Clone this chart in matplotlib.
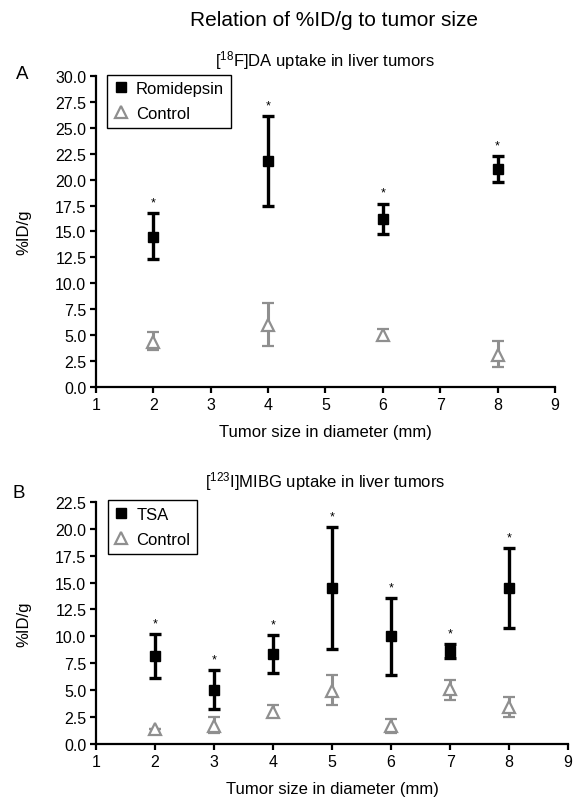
import matplotlib
matplotlib.use("Agg")
import matplotlib.pyplot as plt
from matplotlib.lines import Line2D
import numpy as np

plt.rcParams['font.family'] = ['Liberation Sans', 'DejaVu Sans']
plt.rcParams['mathtext.fontset'] = 'custom'
plt.rcParams['mathtext.rm'] = 'Liberation Sans'
plt.rcParams['mathtext.it'] = 'Liberation Sans:italic'
plt.rcParams['mathtext.bf'] = 'Liberation Sans:bold'

# panel A data
a_x = [2, 4, 6, 8]
a_romi = [14.5, 21.8, 16.2, 21.0]
a_romi_lo = [12.3, 17.5, 14.8, 19.8]
a_romi_hi = [16.8, 26.1, 17.7, 22.3]
a_ctrl = [4.35, 5.95, 5.0, 3.05]
a_ctrl_lo = [3.6, 3.95, 4.5, 1.9]
a_ctrl_hi = [5.25, 8.1, 5.55, 4.4]

# panel B data
b_x = [2, 3, 4, 5, 6, 7, 8]
b_tsa = [8.15, 5.05, 8.35, 14.5, 10.0, 8.65, 14.5]
b_tsa_lo = [6.15, 3.3, 6.6, 8.85, 6.45, 8.0, 10.8]
b_tsa_hi = [10.2, 6.9, 10.1, 20.15, 13.55, 9.3, 18.2]
b_ctrl = [1.4, 1.7, 3.0, 4.95, 1.65, 5.1, 3.45]
b_ctrl_lo = [1.4, 1.05, 2.55, 3.6, 1.05, 4.1, 2.55]
b_ctrl_hi = [1.4, 2.5, 3.6, 6.45, 2.3, 6.0, 4.35]

GRAY = '#8f8f8f'

fig = plt.figure(figsize=(5.75, 8.03), dpi=100)
axA = fig.add_axes([0.167, 0.517, 0.798, 0.387])
axB = fig.add_axes([0.167, 0.072, 0.821, 0.302])


def panel(ax, x, y1, lo1, hi1, y2, lo2, hi2, name, ymax, lab_x):
    x = np.array(x)
    y1 = np.array(y1); y2 = np.array(y2)
    e1 = [y1 - np.array(lo1), np.array(hi1) - y1]
    e2 = [y2 - np.array(lo2), np.array(hi2) - y2]
    ax.errorbar(x, y2, yerr=e2, fmt='^', color=GRAY, mfc='white', mec=GRAY,
                ms=8, mew=1.6, ecolor=GRAY, elinewidth=2.2, capsize=4, capthick=2.2,
                zorder=2)
    ax.errorbar(x, y1, yerr=e1, fmt='s', color='black', ms=7,
                ecolor='black', elinewidth=2.4, capsize=4, capthick=2.4,
                zorder=3)
    for xi, h in zip(x, hi1):
        ax.text(xi, h + 0.45, '*', ha='center', va='bottom', fontsize=9)
    ax.set_xlim(1, 9)
    ax.set_ylim(0, ymax)
    ax.set_xticks(range(1, 10))
    ax.set_yticks(np.arange(0, ymax + 0.01, 2.5))
    ax.yaxis.set_major_formatter(matplotlib.ticker.FormatStrFormatter('%.1f'))
    for s in ['top', 'right']:
        ax.spines[s].set_visible(False)
    for s in ['left', 'bottom']:
        ax.spines[s].set_linewidth(1.6)
    ax.tick_params(direction='out', length=4, width=1.6, labelsize=11.5, pad=3)
    ax.set_ylabel('%ID/g', fontsize=12)
    ax.yaxis.set_label_coords(lab_x, 0.5)
    ax.set_xlabel('Tumor size in diameter (mm)', fontsize=12, labelpad=9)
    handles = [Line2D([], [], ls='none', marker='s', color='black', ms=7),
               Line2D([], [], ls='none', marker='^', mfc='white', mec=GRAY, ms=8, mew=1.6)]
    leg = ax.legend(handles, [name, 'Control'], loc='upper left', bbox_to_anchor=(0.025, 1.005),
                    fancybox=False, edgecolor='black', fontsize=12,
                    handlelength=0.8, handletextpad=0.5, borderpad=0.4,
                    labelspacing=0.6, framealpha=1, borderaxespad=0)
    leg.get_frame().set_linewidth(1.0)


panel(axA, a_x, a_romi, a_romi_lo, a_romi_hi, a_ctrl, a_ctrl_lo, a_ctrl_hi,
      'Romidepsin', 30, -0.141)
panel(axB, b_x, b_tsa, b_tsa_lo, b_tsa_hi, b_ctrl, b_ctrl_lo, b_ctrl_hi,
      'TSA', 22.5, -0.137)

fig.text(0.581, 0.975, 'Relation of %ID/g to tumor size', ha='center', va='center', fontsize=15)
fig.text(0.565, 0.925, r'[$^{18}$F]DA uptake in liver tumors', ha='center', va='center', fontsize=12)
fig.text(0.565, 0.400, r'[$^{123}$I]MIBG uptake in liver tumors', ha='center', va='center', fontsize=12)
fig.text(0.038, 0.907, 'A', ha='center', va='center', fontsize=13.5)
fig.text(0.033, 0.386, 'B', ha='center', va='center', fontsize=13.5)

fig.savefig('out.png', dpi=100)
